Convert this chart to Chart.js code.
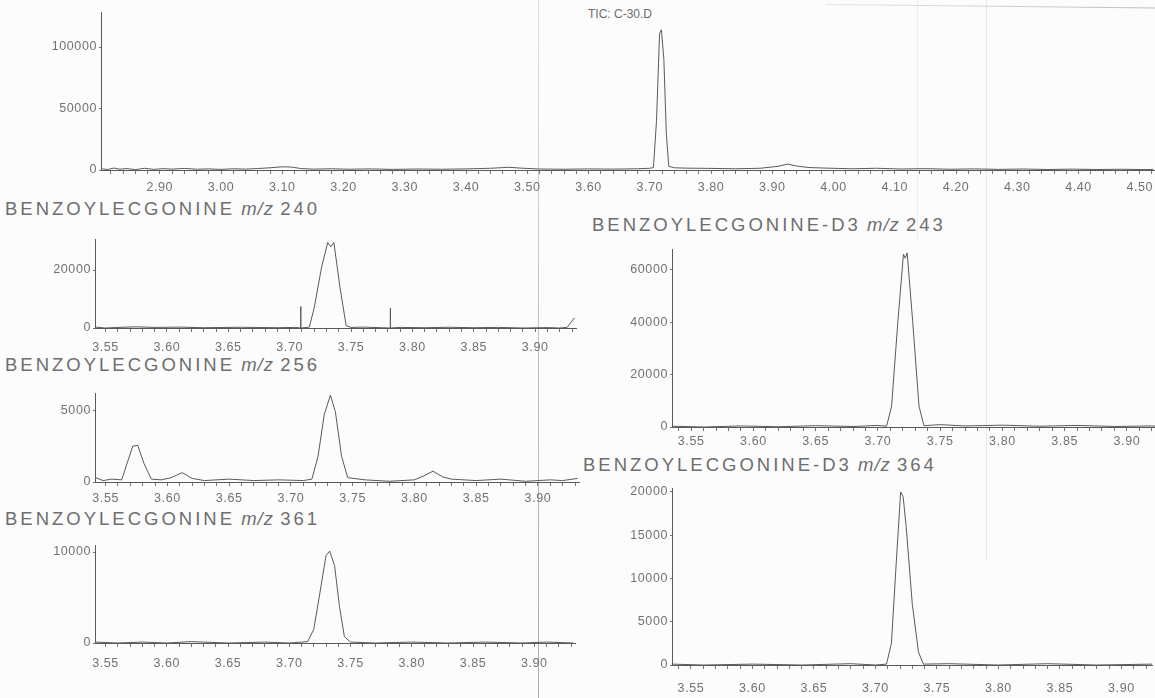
<!DOCTYPE html>
<html><head><meta charset="utf-8">
<script src="https://cdn.jsdelivr.net/npm/chart.js@4.4.0/dist/chart.umd.min.js"></script>
<style>
html,body{margin:0;padding:0;background:#fcfcfc;}
body{width:1155px;height:698px;position:relative;overflow:hidden;font-family:"Liberation Sans",Arial,sans-serif;}
canvas{position:absolute;}
.t{position:absolute;color:#6e6e6e;font-size:18.5px;letter-spacing:3px;word-spacing:-2px;white-space:nowrap;line-height:1;}
.t i{font-style:italic;letter-spacing:1px;}
.s{position:absolute;color:#6c6c6c;font-size:12px;white-space:nowrap;line-height:1;}
.fold{position:absolute;top:0;width:1px;height:698px;}
.hl{position:absolute;height:1px;}
</style></head><body>
<div class="fold" style="left:538px;background:linear-gradient(#e2e2e2,#c4c4c4 40%,#aaa);"></div>
<div class="fold" style="left:917px;height:240px;background:#eeeeee;"></div>
<div class="fold" style="left:986px;height:560px;background:#e8e8e8;"></div>
<div class="hl" style="left:826px;top:4px;width:329px;background:linear-gradient(90deg,#e6e6e6,#bdbdbd);transform:rotate(0.6deg);transform-origin:left;"></div>
<div class="s" style="left:588px;top:8px;">TIC: C-30.D</div>
<div class="t" style="left:5px;top:200px;">BENZOYLECGONINE <i>m/z</i> 240</div>
<div class="t" style="left:5px;top:356px;">BENZOYLECGONINE <i>m/z</i> 256</div>
<div class="t" style="left:5px;top:510px;">BENZOYLECGONINE <i>m/z</i> 361</div>
<div class="t" style="left:592px;top:216px;">BENZOYLECGONINE-D3 <i>m/z</i> 243</div>
<div class="t" style="left:583px;top:456px;">BENZOYLECGONINE-D3 <i>m/z</i> 364</div>
<canvas id="c1"></canvas><canvas id="c2"></canvas><canvas id="c3"></canvas>
<canvas id="c4"></canvas><canvas id="c5"></canvas><canvas id="c6"></canvas>
<script>
// ---------- data ----------
const ticTickLabels = ['2.90','3.00','3.10','3.20','3.30','3.40','3.50','3.60','3.70','3.80','3.90','4.00','4.10','4.20','4.30','4.40','4.50'];
const ionTickLabels = ['3.55','3.60','3.65','3.70','3.75','3.80','3.85','3.90'];
const ticYTicks = [0, 50000, 100000];
const mz240YTicks = [0, 20000];
const mz256YTicks = [0, 5000];
const mz361YTicks = [0, 10000];
const d3mz243YTicks = [0, 20000, 40000, 60000];
const d3mz364YTicks = [0, 5000, 10000, 15000, 20000];

const ticTime = [2.806,2.815,2.825,2.835,2.845,2.86,2.875,2.89,2.905,2.92,2.94,2.96,2.98,3.00,3.02,3.04,3.06,3.08,3.10,3.115,3.13,3.15,3.18,3.21,3.24,3.28,3.32,3.36,3.40,3.44,3.47,3.49,3.52,3.56,3.60,3.64,3.68,3.70,3.706,3.711,3.716,3.719,3.723,3.727,3.731,3.74,3.76,3.80,3.84,3.88,3.91,3.925,3.94,3.96,3.99,4.03,4.07,4.11,4.15,4.19,4.23,4.27,4.31,4.35,4.39,4.43,4.47,4.51,4.522];
const ticIntensity = [900,400,1600,600,1200,300,1400,500,1100,700,1300,600,900,500,1000,700,1200,1800,2600,2400,1200,700,1000,600,900,500,800,600,900,1400,2200,1500,800,600,900,700,1000,1400,2000,40000,111000,114000,90000,30000,3000,1800,1500,1300,1000,1400,3000,4800,3200,2000,1500,1000,1400,800,1100,600,900,500,800,400,700,400,600,300,500];

const mz240Time = [3.542,3.55,3.56,3.575,3.59,3.61,3.63,3.66,3.69,3.705,3.7089,3.709,3.7091,3.716,3.72,3.726,3.731,3.7335,3.736,3.741,3.746,3.75,3.76,3.775,3.7819,3.782,3.7821,3.79,3.81,3.83,3.85,3.87,3.89,3.91,3.92,3.926,3.932];
const mz240Intensity = [300,0,200,400,200,300,100,250,100,200,0,7400,0,300,7000,21000,29500,28000,29500,14000,800,200,300,100,0,6800,0,200,100,250,100,200,0,150,0,200,3500];

const mz256Time = [3.542,3.548,3.555,3.563,3.567,3.572,3.576,3.581,3.587,3.595,3.603,3.612,3.62,3.63,3.65,3.67,3.69,3.71,3.717,3.722,3.727,3.732,3.736,3.741,3.746,3.76,3.78,3.80,3.807,3.815,3.823,3.83,3.85,3.87,3.89,3.91,3.92,3.932];
const mz256Intensity = [300,100,200,150,1200,2500,2550,1300,200,150,300,650,250,100,200,100,150,100,200,1800,4700,6050,4900,1800,300,150,50,150,400,750,350,200,100,200,50,150,100,250];

const mz361Time = [3.542,3.56,3.58,3.60,3.62,3.65,3.68,3.70,3.715,3.72,3.725,3.73,3.733,3.737,3.741,3.745,3.75,3.77,3.80,3.83,3.86,3.89,3.91,3.932];
const mz361Intensity = [100,0,100,0,150,0,100,0,150,1500,5500,9600,10100,8500,4000,700,100,0,100,0,100,0,100,0];

const d3mz243Time = [3.535,3.56,3.59,3.62,3.65,3.68,3.70,3.707,3.711,3.716,3.7205,3.722,3.7235,3.728,3.733,3.737,3.75,3.77,3.80,3.83,3.86,3.89,3.92,3.925];
const d3mz243Intensity = [300,0,400,100,500,200,600,300,8000,40000,66000,64500,66500,40000,8000,500,900,400,700,300,600,200,400,300];

const d3mz364Time = [3.535,3.56,3.60,3.64,3.68,3.70,3.709,3.713,3.717,3.7205,3.7225,3.725,3.73,3.735,3.739,3.76,3.80,3.84,3.88,3.925];
const d3mz364Intensity = [100,0,100,0,150,0,100,2500,12000,20000,19500,16000,7000,1500,100,150,0,150,0,100];

// ---------- layout (pixels) ----------
const panels = [
  {id:'c1', time:ticTime, inten:ticIntensity, xLabels:ticTickLabels, minor:0.02, xMin:2.804, xMax:4.524, yTicks:ticYTicks, yMax:128500, axisX:101, top:12, base:170, right:1155, labelPad:6},
  {id:'c2', time:mz240Time, inten:mz240Intensity, xLabels:ionTickLabels, minor:0.01, xMin:3.5414, xMax:3.9335, yTicks:mz240YTicks, yMax:30700, axisX:95, top:239, base:328, right:577, labelPad:8},
  {id:'c3', time:mz256Time, inten:mz256Intensity, xLabels:ionTickLabels, minor:0.01, xMin:3.5414, xMax:3.9335, yTicks:mz256YTicks, yMax:6200, axisX:95, top:393, base:482, right:577, labelPad:5},
  {id:'c4', time:mz361Time, inten:mz361Intensity, xLabels:ionTickLabels, minor:0.01, xMin:3.5414, xMax:3.9335, yTicks:mz361YTicks, yMax:10770, axisX:95, top:545, base:643, right:577, labelPad:9},
  {id:'c5', time:d3mz243Time, inten:d3mz243Intensity, xLabels:ionTickLabels, minor:0.01, xMin:3.5346, xMax:3.925, yTicks:d3mz243YTicks, yMax:68000, axisX:672, top:249, base:427, right:1155, labelPad:3},
  {id:'c6', time:d3mz364Time, inten:d3mz364Intensity, xLabels:ionTickLabels, minor:0.01, xMin:3.5346, xMax:3.925, yTicks:d3mz364YTicks, yMax:20460, axisX:672, top:488, base:665, right:1155, labelPad:12}
];

const YW = 70, PADTOP = 10, XH = 34;
const ink = '#5a5a5a', txt = '#727272';
const fnt = {family:'"Liberation Sans", Arial, sans-serif', size:12.5};

const spacing = {
  id: 'spacing',
  beforeUpdate(chart) { chart.ctx.letterSpacing = '0.6px'; },
  beforeDraw(chart) { chart.ctx.letterSpacing = '0.6px'; }
};

panels.forEach(p => {
  const cv = document.getElementById(p.id);
  const left = p.axisX - YW, top = p.top - PADTOP;
  const w = p.right - left + 3, h = (p.base - p.top) + PADTOP + XH;
  cv.width = w; cv.height = h;
  cv.style.left = left + 'px'; cv.style.top = top + 'px';
  cv.style.width = w + 'px'; cv.style.height = h + 'px';
  const majors = p.xLabels.map(Number);
  new Chart(cv, {
    type: 'line',
    plugins: [spacing],
    data: { datasets: [{
      data: p.time.map((t, i) => ({x: t, y: p.inten[i]})),
      borderColor: ink, borderWidth: 1, pointRadius: 0, tension: 0, fill: false
    }]},
    options: {
      responsive: false, animation: false, devicePixelRatio: 1,
      layout: {padding: {top: PADTOP, left: 0, right: 0, bottom: 0}},
      plugins: {legend: {display: false}, tooltip: {enabled: false}, title: {display: false}},
      scales: {
        x: {
          type: 'linear', min: p.xMin, max: p.xMax,
          afterBuildTicks: s => {
            const out = [];
            const start = Math.ceil(p.xMin / p.minor);
            const end = Math.floor(p.xMax / p.minor);
            for (let k = start; k <= end; k++) out.push({value: +(k * p.minor).toFixed(3)});
            s.ticks = out;
          },
          afterFit: s => { s.height = XH; },
          ticks: {
            autoSkip: false, maxRotation: 0, minRotation: 0, padding: p.labelPad,
            color: txt, font: fnt,
            callback: v => { const i = majors.findIndex(m => Math.abs(m - v) < 1e-6); return i >= 0 ? p.xLabels[i] : ''; }
          },
          grid: {drawOnChartArea: false, drawTicks: true, tickLength: 4, color: '#777', lineWidth: 1},
          border: {display: true, color: ink, width: 1}
        },
        y: {
          type: 'linear', min: 0, max: p.yMax,
          afterBuildTicks: s => { s.ticks = p.yTicks.map(v => ({value: v})); },
          afterFit: s => { s.width = YW; },
          ticks: {padding: 2, color: txt, font: fnt, callback: v => String(v)},
          grid: {drawOnChartArea: false, drawTicks: true, tickLength: 2, color: '#777', lineWidth: 1},
          border: {display: true, color: ink, width: 1}
        }
      }
    }
  });
});
</script>
</body></html>
